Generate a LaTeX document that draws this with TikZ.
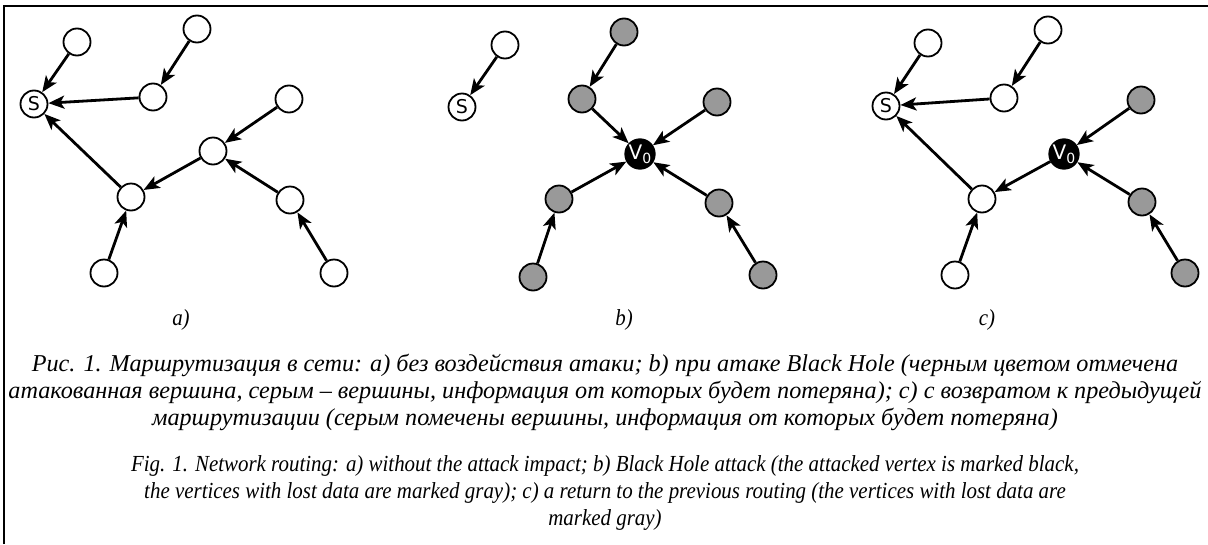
\documentclass[tikz,border=0pt]{standalone}
\usepackage{fontspec}
\setmainfont{Liberation Serif}
\newfontfamily\enfont[FakeStretch=0.91]{Liberation Serif}
\newfontfamily\labelfont{DejaVu Sans}
\usetikzlibrary{arrows.meta}
\definecolor{lostgray}{RGB}{153,153,153}
\begin{document}
\begin{tikzpicture}[x=1pt,y=-1pt,
  vtx/.style={circle,draw=black,line width=1.8pt,minimum size=27pt,inner sep=0pt,fill=white},
  lost/.style={vtx,fill=lostgray},
  sink/.style={vtx,font=\labelfont\fontsize{19}{19}\selectfont},
  hole/.style={vtx,fill=black,text=white,font=\labelfont\fontsize{20}{20}\selectfont},
  route/.style={line width=2.8pt,-{Stealth[length=16pt,width=13pt,inset=4pt]}},
  rucap/.style={font=\itshape\fontsize{24.2}{24.2}\selectfont,inner sep=0pt,anchor=center},
  encap/.style={font=\enfont\itshape\fontsize{23}{23}\selectfont,inner sep=0pt,anchor=center},
  sublabel/.style={font=\enfont\itshape\fontsize{23}{23}\selectfont,inner sep=0pt}]
\useasboundingbox (0,0) rectangle (1208,544);
\fill[white] (0,0) rectangle (1208,544);
% frame
\draw[line width=1.6pt] (4,544) -- (4,6) -- (1208,6);

% ---------- a) routing without attack ----------
\node[sink] (aS) at (34,104) {S};
\node[vtx] (aTL) at (77,42) {};
\node[vtx] (aT) at (197,29) {};
\node[vtx] (aM) at (153,97) {};
\node[vtx] (aRT) at (289,99) {};
\node[vtx] (aC) at (213,151) {};
\node[vtx] (aL) at (131,197) {};
\node[vtx] (aRM) at (290,200) {};
\node[vtx] (aBL) at (104,273) {};
\node[vtx] (aBR) at (334,273) {};
\draw[route] (aTL) -- (aS);
\draw[route] (aT) -- (aM);
\draw[route] (aM) -- (aS);
\draw[route] (aL) -- (aS);
\draw[route] (aC) -- (aL);
\draw[route] (aRT) -- (aC);
\draw[route] (aRM) -- (aC);
\draw[route] (aBL) -- (aL);
\draw[route] (aBR) -- (aRM);

% ---------- b) Black Hole attack ----------
\node[sink] (bS) at (462,107) {S};
\node[vtx] (bTL) at (505,45) {};
\node[lost] (bT) at (624,32) {};
\node[lost] (bM) at (582,99) {};
\node[lost] (bRT) at (717,102) {};
\node[hole] (bV) at (640,154) {V\raisebox{-0.4ex}{\fontsize{14}{14}\selectfont 0}};
\node[lost] (bL) at (559,199) {};
\node[lost] (bRM) at (719,203) {};
\node[lost] (bBL) at (533,277) {};
\node[lost] (bBR) at (763,275) {};
\draw[route] (bTL) -- (bS);
\draw[route] (bT) -- (bM);
\draw[route] (bM) -- (bV);
\draw[route] (bRT) -- (bV);
\draw[route] (bL) -- (bV);
\draw[route] (bRM) -- (bV);
\draw[route] (bBL) -- (bL);
\draw[route] (bBR) -- (bRM);

% ---------- c) return to previous routing ----------
\node[sink] (cS) at (886,106) {S};
\node[vtx] (cTL) at (928,43) {};
\node[vtx] (cT) at (1048,30) {};
\node[vtx] (cM) at (1004,98) {};
\node[lost] (cRT) at (1141,100) {};
\node[hole] (cV) at (1064,154) {V\raisebox{-0.4ex}{\fontsize{14}{14}\selectfont 0}};
\node[vtx] (cL) at (982,199) {};
\node[lost] (cRM) at (1142,202) {};
\node[vtx] (cBL) at (955,275) {};
\node[lost] (cBR) at (1185,273) {};
\draw[route] (cTL) -- (cS);
\draw[route] (cT) -- (cM);
\draw[route] (cM) -- (cS);
\draw[route] (cL) -- (cS);
\draw[route] (cV) -- (cL);
\draw[route] (cRT) -- (cV);
\draw[route] (cRM) -- (cV);
\draw[route] (cBL) -- (cL);
\draw[route] (cBR) -- (cRM);

% sub-figure labels
\node[sublabel] (la) at (181,320) {a)};
\node[sublabel] (lb) at (624,320) {b)};
\node[sublabel] (lc) at (987,320) {c)};

% caption, Russian
\node[rucap] (ru1) at (605,365) {Рис. 1. Маршрутизация в сети: a) без воздействия атаки; b) при атаке Black Hole (черным цветом отмечена};
\node[rucap] (ru2) at (605,392) {атакованная вершина, серым – вершины, информация от которых будет потеряна); c) с возвратом к предыдущей};
\node[rucap] (ru3) at (605,419) {маршрутизации (серым помечены вершины, информация от которых будет потеряна)};
% caption, English
\node[encap] (en1) at (605,466) {Fig. 1. Network routing: a) without the attack impact; b) Black Hole attack (the attacked vertex is marked black,};
\node[encap] (en2) at (605,493) {the vertices with lost data are marked gray); c) a return to the previous routing (the vertices with lost data are};
\node[encap] (en3) at (605,520) {marked gray)};
\end{tikzpicture}
\end{document}
